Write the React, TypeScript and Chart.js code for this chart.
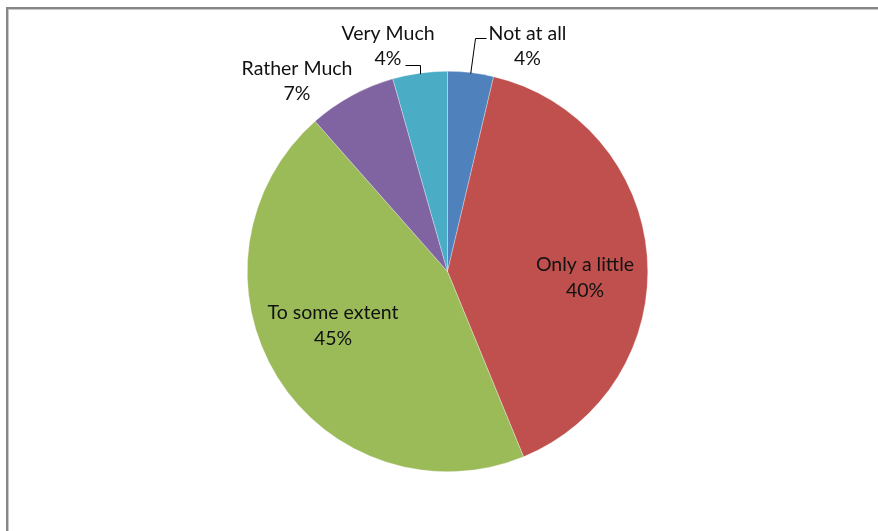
import React, { useEffect, useRef } from "react";
import { Chart, registerables } from "chart.js";

Chart.register(...registerables);

const categories = ["Not at all", "Only a little", "To some extent", "Rather Much", "Very Much"];
const values = [3.7, 40.1, 44.7, 7.1, 4.4];
const colors = ["#4F81BD", "#C0504D", "#9BBB59", "#8064A2", "#4BACC6"];

// label placement (offsets of the two-line label centre from the pie centre)
const labelOffsets = [
  { dx: 80, dy: -225.5 },
  { dx: 137.5, dy: 6 },
  { dx: -114.5, dy: 54 },
  { dx: -150.5, dy: -190.5 },
  { dx: -59.5, dy: -225.5 },
];
// leader lines: label-end offset and elbow offset from pie centre
const leaders: Record<number, { sx: number; sy: number; ex: number }> = {
  0: { sx: 38.5, sy: -233.5, ex: 27.5 },
  4: { sx: -42.5, sy: -206.5, ex: 0 },
};

const FONT = "19.5px Lato, 'Open Sans', sans-serif";

const labelPlugin = {
  id: "pieLabels",
  afterDatasetsDraw(chart: any) {
    const ctx = chart.ctx;
    const meta = chart.getDatasetMeta(0);
    const data = chart.data.datasets[0].data as number[];
    const total = data.reduce((a, b) => a + b, 0);
    ctx.save();
    ctx.font = FONT;
    ctx.fillStyle = "#111";
    ctx.textAlign = "center";
    ctx.textBaseline = "middle";
    meta.data.forEach((arc: any, i: number) => {
      const p = arc.getProps(["x", "y", "startAngle", "endAngle", "outerRadius"], true);
      const off = labelOffsets[i];
      const cx = p.x + off.dx;
      const cy = p.y + off.dy;
      ctx.fillText(chart.data.labels[i], cx, cy - 12.5);
      ctx.fillText(Math.round((data[i] / total) * 100) + "%", cx, cy + 13);
      const ld = leaders[i];
      if (ld) {
        const mid = (p.startAngle + p.endAngle) / 2;
        const exX = p.x + Math.cos(mid) * p.outerRadius;
        const exY = p.y + Math.sin(mid) * (p.outerRadius - 1);
        ctx.strokeStyle = "#000";
        ctx.lineWidth = 1;
        ctx.beginPath();
        const sx = Math.round(p.x + ld.sx) + 0.5;
        const sy = Math.round(p.y + ld.sy) + 0.5;
        ctx.moveTo(sx, sy);
        if (i === 0) {
          const bx = Math.round(p.x + ld.ex) + 0.5;
          ctx.lineTo(bx, sy);
          ctx.lineTo(exX, exY);
        } else {
          const bx = Math.round(exX) + 0.5;
          ctx.lineTo(bx, sy);
          ctx.lineTo(bx, exY);
        }
        ctx.stroke();
      }
    });
    ctx.restore();
  },
};

const framePlugin = {
  id: "frame",
  beforeDraw(chart: any) {
    const ctx = chart.ctx;
    ctx.save();
    ctx.fillStyle = "#fff";
    ctx.fillRect(0, 0, chart.width, chart.height);
    ctx.fillStyle = "#878787";
    ctx.fillRect(6, 7, chart.width, 2);
    ctx.fillRect(6, 7, 2, chart.height);
    ctx.fillStyle = "#c8c8c8";
    ctx.fillRect(8, 9, chart.width, 1);
    ctx.fillRect(8, 9, 1, chart.height);
    ctx.restore();
  },
};

export default function App() {
  const ref = useRef<HTMLCanvasElement>(null);
  useEffect(() => {
    if (!ref.current) return;
    const chart = new Chart(ref.current, {
      type: "pie",
      data: {
        labels: categories,
        datasets: [
          {
            data: values,
            backgroundColor: colors,
            borderColor: "rgba(255,255,255,0.6)",
            borderWidth: 0.5,
          },
        ],
      },
      options: {
        responsive: false,
        animation: false,
        layout: { padding: { left: 247, right: 230, top: 71, bottom: 59 } },
        plugins: { legend: { display: false }, tooltip: { enabled: false } },
      },
      plugins: [framePlugin, labelPlugin],
    });
    return () => chart.destroy();
  }, []);
  return (
    <div style={{ position: "absolute", left: 0, top: 0, width: 878, height: 531, overflow: "hidden" }}>
      <canvas ref={ref} width={878} height={531} style={{ display: "block" }} />
    </div>
  );
}
